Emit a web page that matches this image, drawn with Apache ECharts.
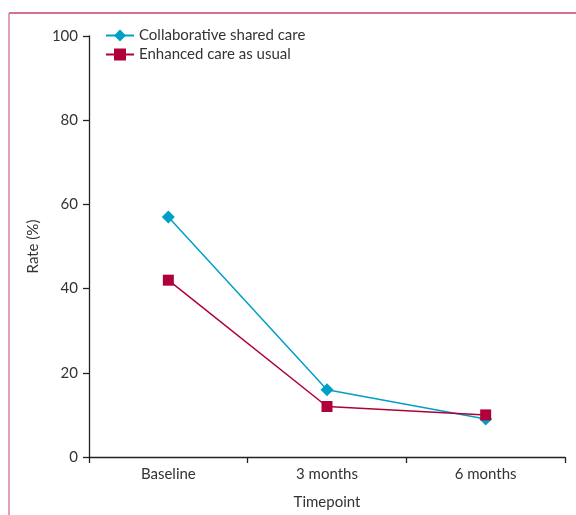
<!DOCTYPE html>
<html><head><meta charset="utf-8">
<script src="https://cdn.jsdelivr.net/npm/echarts@6/dist/echarts.min.js"></script>
<style>html,body{margin:0;padding:0;background:#fff}#c{width:576px;height:515px}</style>
</head><body><div id="c"></div>
<script>
const categories = ['Baseline', '3 months', '6 months'];
const collaborative = [57, 16, 9];
const enhanced = [42, 12, 10];
const yTicks = [0, 20, 40, 60, 80, 100];

const chart = echarts.init(document.getElementById('c'), null, {renderer: 'canvas'});
const font = 'Lato, "Open Sans", sans-serif';
chart.setOption({
  animation: false,
  textStyle: {fontFamily: font},
  grid: {left: 89, right: 11, top: 36, bottom: 56},
  legend: {
    orient: 'vertical', left: 100, top: 23, itemGap: 4,
    itemWidth: 28, itemHeight: 15,
    textStyle: {fontFamily: font, fontSize: 15, color: '#333'},
    data: ['Collaborative shared care', 'Enhanced care as usual']
  },
  xAxis: {
    type: 'category', data: categories, boundaryGap: true,
    name: 'Timepoint', nameLocation: 'middle', nameGap: 38,
    nameTextStyle: {fontFamily: font, fontSize: 15, color: '#333'},
    axisLine: {lineStyle: {color: '#222', width: 1.3}},
    axisTick: {show: true, length: 6, lineStyle: {color: '#222', width: 1.3}},
    axisLabel: {fontFamily: font, fontSize: 15, color: '#333', margin: 10}
  },
  yAxis: {
    type: 'value', min: 0, max: 100, interval: 20,
    name: 'Rate (%)', nameLocation: 'middle', nameGap: 48, nameRotate: 90,
    nameTextStyle: {fontFamily: font, fontSize: 15, color: '#333'},
    axisLine: {show: true, lineStyle: {color: '#222', width: 1.3}},
    axisTick: {show: true, length: 6, lineStyle: {color: '#222', width: 1.3}},
    axisLabel: {fontFamily: font, fontSize: 15, color: '#333', margin: 11,
      formatter: v => yTicks.includes(v) ? String(v) : ''},
    splitLine: {show: false}
  },
  series: [
    {name: 'Collaborative shared care', type: 'line', data: collaborative,
     symbol: 'diamond', symbolSize: 13, color: '#00a0c6',
     lineStyle: {width: 1.5, color: '#00a0c6'}, itemStyle: {color: '#00a0c6'}},
    {name: 'Enhanced care as usual', type: 'line', data: enhanced,
     symbol: 'rect', symbolSize: 11, color: '#b0003a',
     lineStyle: {width: 1.5, color: '#b0003a'}, itemStyle: {color: '#b0003a'}}
  ],
  graphic: [
    {type: 'line', shape: {x1: 9, y1: 13, x2: 576, y2: 13}, style: {stroke: '#c8406a', lineWidth: 1.5}},
    {type: 'line', shape: {x1: 9, y1: 13, x2: 9, y2: 515}, style: {stroke: '#d8809c', lineWidth: 1.5}}
  ]
});
</script></body></html>
